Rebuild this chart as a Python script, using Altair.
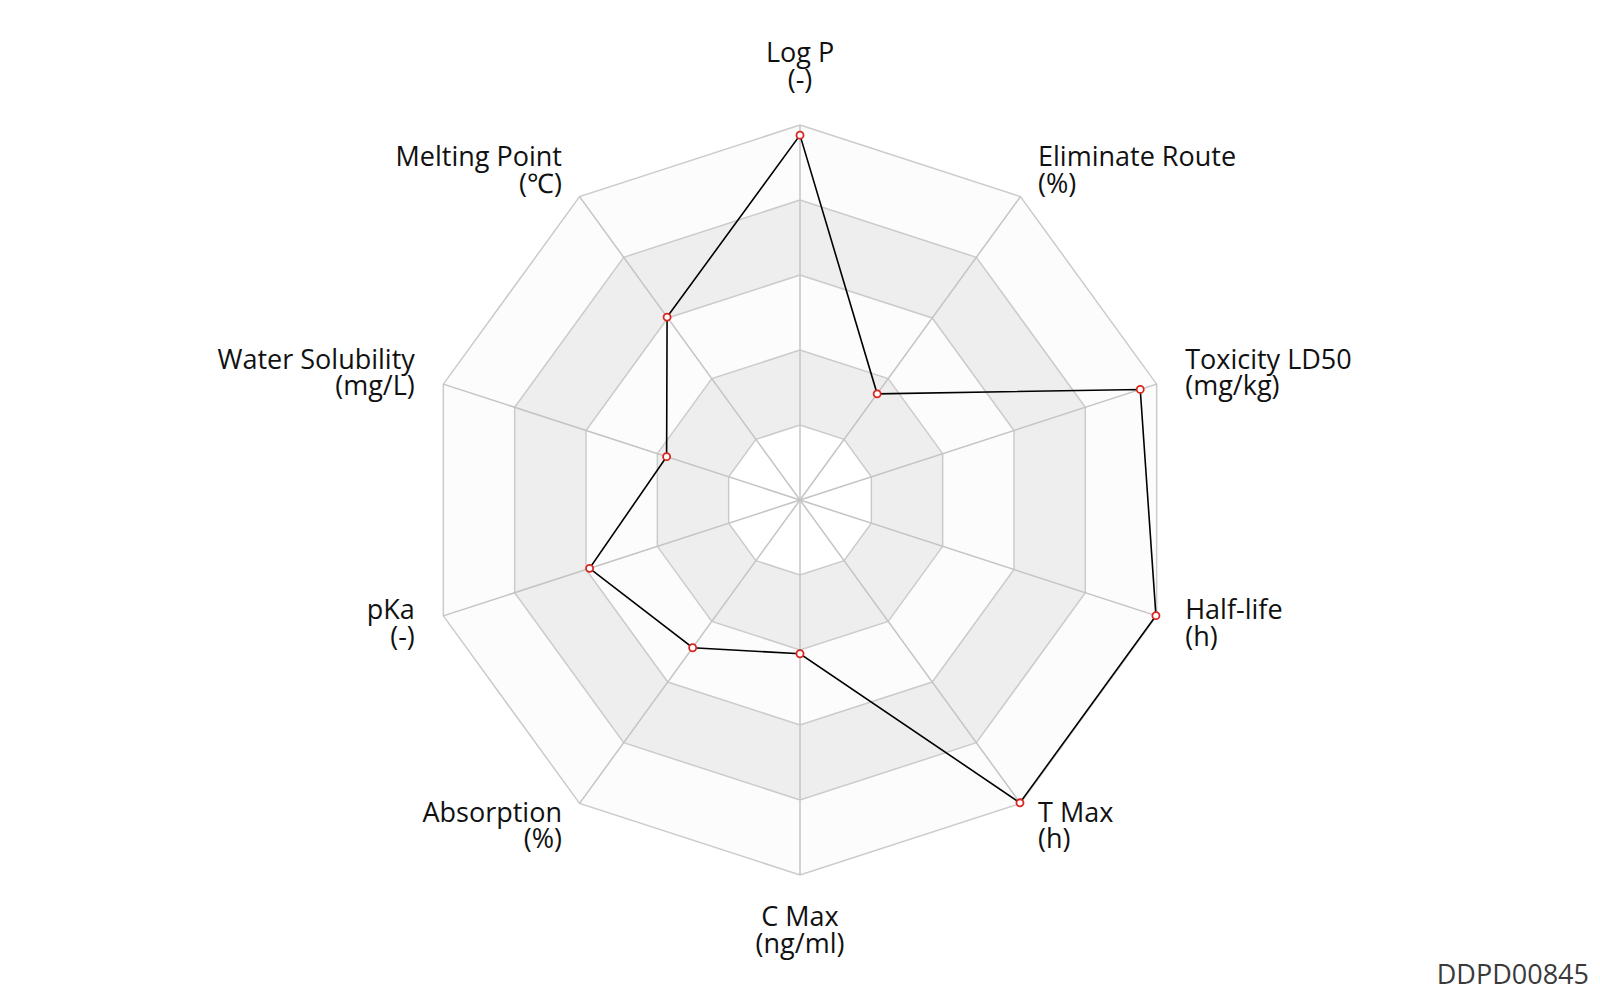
import math
import altair as alt
import pandas as pd

# Radar profile of one compound: ten descriptors, values normalised to 0..1
axis_names = ["Log P", "Eliminate Route", "Toxicity LD50", "Half-life", "T Max",
              "C Max", "Absorption", "pKa", "Water Solubility", "Melting Point"]
axis_units = ["(-)", "(%)", "(mg/kg)", "(h)", "(h)",
              "(ng/ml)", "(%)", "(-)", "(mg/L)", "(℃)"]
scores = [0.973, 0.35, 0.954, 0.998, 0.998, 0.41, 0.487, 0.59, 0.374, 0.603]
ring_levels = [0.2, 0.4, 0.6, 0.8, 1.0]
compound_id = "DDPD00845"

W, H = 1600, 1000
R_PX = 375                      # outer ring radius in pixels
LABEL_R = 1 + 30 / R_PX         # labels sit 30 px beyond the outer ring
N = len(axis_names)
FONT = "Open Sans"
FONT_SIZE = 27
LINE_H = 26.5

x_scale = alt.Scale(domain=[-W / 2 / R_PX, W / 2 / R_PX], nice=False, zero=False)
y_scale = alt.Scale(domain=[-H / 2 / R_PX, H / 2 / R_PX], nice=False, zero=False)

ANGLE = f"datum.k * 2 * PI / {N}"


def polar(r_expr):
    return {"x": f"({r_expr}) * sin({ANGLE})", "y": f"({r_expr}) * cos({ANGLE})"}


# closed ring polygons (first vertex repeated at the end)
rings = pd.DataFrame(
    [{"level": lv, "k": i % N, "ord": i} for lv in ring_levels for i in range(N + 1)]
)
band_fill = {1.0: "#fcfcfc", 0.8: "#eeeeee", 0.6: "#fcfcfc", 0.4: "#eeeeee", 0.2: "#ffffff"}

layers = []
for lv in sorted(ring_levels, reverse=True):
    layers.append(
        alt.Chart(rings)
        .transform_filter(f"datum.level == {lv}")
        .transform_calculate(**polar("datum.level"))
        .mark_line(fill=band_fill[lv], stroke="#cbcbcb", strokeWidth=1.5)
        .encode(
            x=alt.X("x:Q", scale=x_scale, axis=None),
            y=alt.Y("y:Q", scale=y_scale, axis=None),
            order="ord:Q",
        )
    )

# spokes from the centre to each outer vertex
spokes = pd.DataFrame({"k": list(range(N))})
layers.append(
    alt.Chart(spokes)
    .transform_calculate(x0="0", y0="0", **polar("1"))
    .mark_rule(stroke="#c4c4c4", strokeWidth=1.5)
    .encode(
        x=alt.X("x0:Q", scale=x_scale, axis=None),
        y=alt.Y("y0:Q", scale=y_scale, axis=None),
        x2="x:Q",
        y2="y:Q",
    )
)

# the compound's profile
profile = pd.DataFrame(
    {"k": [i % N for i in range(N + 1)],
     "ord": list(range(N + 1)),
     "score": [scores[i % N] for i in range(N + 1)]}
)
layers.append(
    alt.Chart(profile)
    .transform_calculate(**polar("datum.score"))
    .mark_line(stroke="#000000", strokeWidth=1.6)
    .encode(
        x=alt.X("x:Q", scale=x_scale, axis=None),
        y=alt.Y("y:Q", scale=y_scale, axis=None),
        order="ord:Q",
    )
)
layers.append(
    alt.Chart(profile)
    .transform_filter(f"datum.ord < {N}")
    .transform_calculate(**polar("datum.score"))
    .mark_point(shape="circle", filled=True, fill="#ffffff", stroke="#d7261e",
                strokeWidth=1.8, size=50, opacity=1)
    .encode(
        x=alt.X("x:Q", scale=x_scale, axis=None),
        y=alt.Y("y:Q", scale=y_scale, axis=None),
    )
)

# axis labels: name on the first line, unit below
labels = pd.DataFrame(
    {"k": list(range(N)),
     "label": [f"{n}\n{u}" for n, u in zip(axis_names, axis_units)]}
)
label_groups = [
    ("datum.k == 0", "center", "bottom", -27),
    (f"datum.k == {N // 2}", "center", "top", 0),
    (f"datum.k > 0 && datum.k < {N // 2}", "left", "middle", -14),
    (f"datum.k > {N // 2}", "right", "middle", -14),
]
for cond, align, baseline, shift in label_groups:
    layers.append(
        alt.Chart(labels)
        .transform_filter(cond)
        .transform_calculate(**polar(str(LABEL_R)))
        .mark_text(align=align, baseline=baseline, lineBreak="\n", font=FONT,
                   fontSize=FONT_SIZE, lineHeight=LINE_H, dy=shift, color="#111111")
        .encode(
            x=alt.X("x:Q", scale=x_scale, axis=None),
            y=alt.Y("y:Q", scale=y_scale, axis=None),
            text="label:N",
        )
    )

# compound identifier in the bottom-right corner
layers.append(
    alt.Chart(pd.DataFrame({"id": [compound_id]}))
    .mark_text(align="right", baseline="alphabetic", font=FONT, fontSize=27,
               color="#3a3a3a")
    .encode(x=alt.value(1589), y=alt.value(984), text="id:N")
)

chart = (
    alt.layer(*layers)
    .properties(width=W, height=H, padding=0,
                autosize=alt.AutoSizeParams(type="none"), background="#ffffff")
    .configure_view(strokeWidth=0)
)

chart.save("out.html", embed_options={"renderer": "svg", "actions": False})
